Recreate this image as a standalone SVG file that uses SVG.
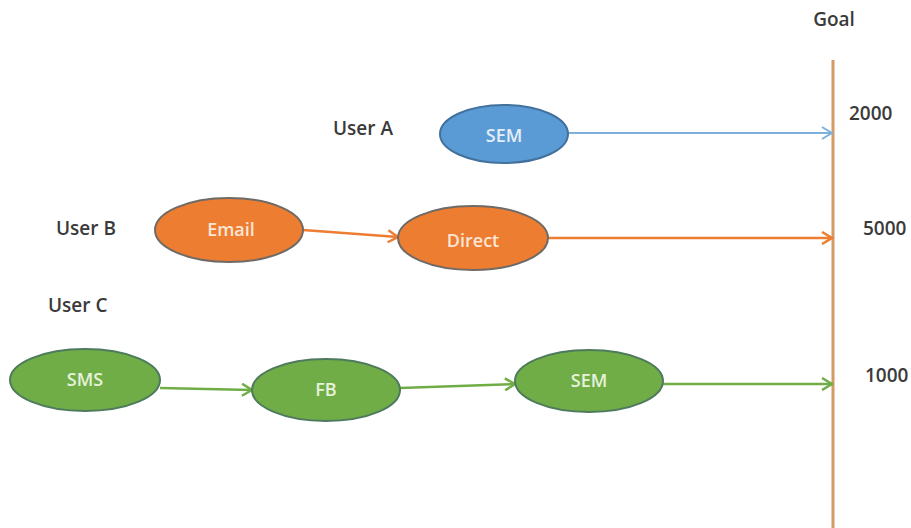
<svg xmlns="http://www.w3.org/2000/svg" width="911" height="528" viewBox="0 0 911 528">
<style>
  text { font-family: "Open Sans", "Liberation Sans", sans-serif; font-size: 19px; font-weight: 600; }
  .lbl { fill: #3A3A3A; }
  .nt { text-anchor: middle; dominant-baseline: central; font-size: 18px; }
  .tb { fill: #E4EEF8; }
  .to { fill: #FBE6D6; }
  .tg { fill: #E6F2DC; }
  .blue { fill: #5B9BD5; stroke: #41719C; stroke-width: 2; }
  .orange { fill: #ED7D31; stroke: #6F6A66; stroke-width: 2; }
  .green { fill: #70AD47; stroke: #4E7A5E; stroke-width: 2; }
  .cb { stroke: #7DB0DC; stroke-width: 2; fill: none; }
  .co { stroke: #ED7D31; stroke-width: 2.5; fill: none; }
  .cg { stroke: #70AD47; stroke-width: 2.5; fill: none; }
</style>
<defs>
  <marker id="ab" markerWidth="14" markerHeight="14" refX="12" refY="7" orient="auto" markerUnits="userSpaceOnUse">
    <path d="M2,1 L12,7 L2,13" fill="none" stroke="#7DB0DC" stroke-width="2"/>
  </marker>
  <marker id="ao" markerWidth="14" markerHeight="14" refX="12" refY="7" orient="auto" markerUnits="userSpaceOnUse">
    <path d="M2,1 L12,7 L2,13" fill="none" stroke="#ED7D31" stroke-width="2.5"/>
  </marker>
  <marker id="ag" markerWidth="14" markerHeight="14" refX="12" refY="7" orient="auto" markerUnits="userSpaceOnUse">
    <path d="M2,1 L12,7 L2,13" fill="none" stroke="#70AD47" stroke-width="2.5"/>
  </marker>
</defs>
<rect width="911" height="528" fill="#FFFFFF"/>
<g id="goal-axis">
  <line x1="833" y1="60" x2="833" y2="528" stroke="#D39A66" stroke-width="3"/>
  <text class="lbl" x="834" y="26" text-anchor="middle">Goal</text>
  <text class="lbl" x="849" y="120">2000</text>
  <text class="lbl" x="863" y="235">5000</text>
  <text class="lbl" x="865" y="382">1000</text>
</g>
<g id="row-labels">
  <text class="lbl" x="333" y="135">User A</text>
  <text class="lbl" x="56" y="235">User B</text>
  <text class="lbl" x="48" y="312">User C</text>
</g>
<g id="connectors">
  <line class="cb" x1="568" y1="133" x2="832" y2="133" marker-end="url(#ab)"/>
  <line class="co" x1="303" y1="230" x2="398" y2="237" marker-end="url(#ao)"/>
  <line class="co" x1="548" y1="238" x2="832" y2="238" marker-end="url(#ao)"/>
  <line class="cg" x1="160" y1="388" x2="252" y2="390" marker-end="url(#ag)"/>
  <line class="cg" x1="400" y1="388" x2="515" y2="384" marker-end="url(#ag)"/>
  <line class="cg" x1="663" y1="384" x2="832" y2="384" marker-end="url(#ag)"/>
</g>
<g id="node-sem-a">
  <ellipse class="blue" cx="504" cy="134" rx="64" ry="29"/>
  <text class="nt tb" x="504" y="135">SEM</text>
</g>
<g id="node-email">
  <ellipse class="orange" cx="229" cy="230" rx="74" ry="32"/>
  <text class="nt to" x="231" y="229">Email</text>
</g>
<g id="node-direct">
  <ellipse class="orange" cx="473" cy="238" rx="75" ry="32"/>
  <text class="nt to" x="473" y="240">Direct</text>
</g>
<g id="node-sms">
  <ellipse class="green" cx="85" cy="380" rx="75" ry="31"/>
  <text class="nt tg" x="85" y="379">SMS</text>
</g>
<g id="node-fb">
  <ellipse class="green" cx="326" cy="390" rx="74" ry="31"/>
  <text class="nt tg" x="326" y="389">FB</text>
</g>
<g id="node-sem-c">
  <ellipse class="green" cx="589" cy="381" rx="74" ry="31"/>
  <text class="nt tg" x="589" y="380">SEM</text>
</g>
</svg>
